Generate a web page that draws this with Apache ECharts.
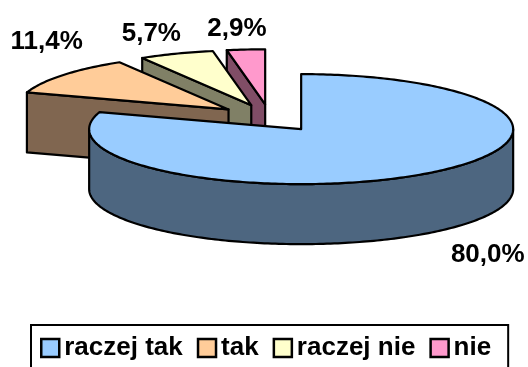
<!DOCTYPE html>
<html><head><meta charset="utf-8">
<style>html,body{margin:0;padding:0;background:#fff}#c{width:528px;height:367px}</style>
<script src="https://cdn.jsdelivr.net/npm/echarts@6/dist/echarts.min.js"></script>
</head><body><div id="c"></div>
<script>
const categories = ['raczej tak', 'tak', 'raczej nie', 'nie'];
const values = [80.0, 11.4, 5.7, 2.9];
const valueLabels = ['80,0%', '11,4%', '5,7%', '2,9%'];
const topColors = ['#99CCFF', '#FFCC99', '#FFFFCC', '#FF99CC'];
const sideColors = ['#4D6680', '#806650', '#808066', '#804D66'];
const drawOrder = [3, 2, 1, 0];
const labelOffsets = [[62, 81], [-16, -33], [-25, -20], [-9, -21]];

const CX = 270, CY = 118, RX = 212, RY = 55, DEPTH = 60, EXPLODE = 0.25;
const FONT = 'bold 26px "Liberation Sans", Arial, sans-serif';
const total = values.reduce((a, b) => a + b, 0);
const rad = d => d * Math.PI / 180;

function slice(i) {
  const start = values.slice(0, i).reduce((a, b) => a + b, 0) / total * 360;
  const end = start + values[i] / total * 360;
  const mid = (start + end) / 2;
  const ax = CX + EXPLODE * RX * Math.sin(rad(mid));
  const ay = CY - EXPLODE * RY * Math.cos(rad(mid));
  const at = d => [ax + RX * Math.sin(rad(d)), ay - RY * Math.cos(rad(d))];
  return { start, end, mid, ax, ay, at };
}
const arc = (s, from, to) => {
  const pts = [], n = Math.max(2, Math.ceil(Math.abs(to - from)));
  for (let k = 0; k <= n; k++) pts.push(s.at(from + (to - from) * k / n));
  return pts;
};
const down = p => [p[0], p[1] + DEPTH];

function renderItem(i) {
  return function () {
    const s = slice(i);
    const stroke = { stroke: '#000', lineWidth: 2.2, lineJoin: 'round' };
    const children = [];
    const wall = pts => children.push({
      type: 'polygon', shape: { points: pts },
      style: Object.assign({ fill: sideColors[i] }, stroke)
    });
    if (Math.sin(rad(s.start)) < -1e-6) {
      const tip = s.at(s.start), apex = [s.ax, s.ay];
      wall([tip, apex, down(apex), down(tip)]);
    }
    const from = Math.max(s.start, 90), to = Math.min(s.end, 270);
    if (to > from) {
      const rim = arc(s, from, to);
      wall(rim.concat(rim.map(down).reverse()));
    }
    children.push({
      type: 'polygon',
      shape: { points: [[s.ax, s.ay]].concat(arc(s, s.start, s.end)) },
      style: Object.assign({ fill: topColors[i] }, stroke)
    });
    const lp = s.at(s.mid);
    children.push({
      type: 'text',
      style: {
        text: valueLabels[i], x: lp[0] + labelOffsets[i][0], y: lp[1] + labelOffsets[i][1],
        fill: '#000', font: FONT, textAlign: 'center', textVerticalAlign: 'middle'
      }
    });
    return { type: 'group', children };
  };
}

const chart = echarts.init(document.getElementById('c'), null, { renderer: 'canvas' });
chart.setOption({
  animation: false,
  backgroundColor: '#fff',
  legend: {
    left: 31, top: 325,
    orient: 'horizontal',
    padding: [10, 17, 15, 9],
    borderColor: '#000', borderWidth: 2,
    itemWidth: 18, itemHeight: 18, itemGap: 14,
    icon: 'rect',
    selectedMode: false,
    textStyle: { color: '#000', fontFamily: '"Liberation Sans", Arial, sans-serif', fontWeight: 'bold', fontSize: 26 },
    data: categories.map((name, i) => ({
      name, icon: 'rect',
      itemStyle: { color: topColors[i], borderColor: '#000', borderWidth: 2.5 }
    }))
  },
  series: drawOrder.map(i => ({
    type: 'custom',
    name: categories[i],
    coordinateSystem: 'none',
    silent: true,
    itemStyle: { color: topColors[i] },
    data: [values[i]],
    renderItem: renderItem(i)
  }))
});
</script></body></html>
